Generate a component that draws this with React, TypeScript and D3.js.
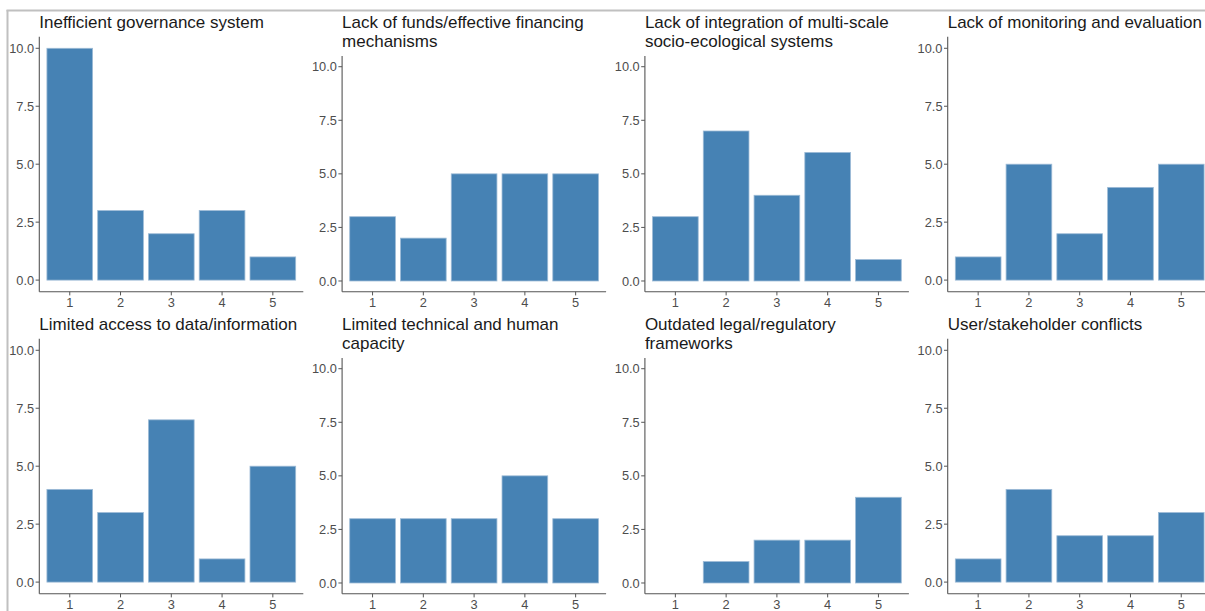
import React from "react";
import * as d3 from "d3";

const categories = ["1", "2", "3", "4", "5"];
const yTicks = [0, 2.5, 5, 7.5, 10];

const titles: string[][] = [
  ["Inefficient governance system"],
  ["Lack of funds/effective financing", "mechanisms"],
  ["Lack of integration of multi-scale", "socio-ecological systems"],
  ["Lack of monitoring and evaluation"],
  ["Limited access to data/information"],
  ["Limited technical and human", "capacity"],
  ["Outdated legal/regulatory", "frameworks"],
  ["User/stakeholder conflicts"],
];

const governance = [10, 3, 2, 3, 1];
const funds = [3, 2, 5, 5, 5];
const integration = [3, 7, 4, 6, 1];
const monitoring = [1, 5, 2, 4, 5];
const dataAccess = [4, 3, 7, 1, 5];
const capacity = [3, 3, 3, 5, 3];
const legal = [0, 1, 2, 2, 4];
const conflicts = [1, 4, 2, 2, 3];

const seriesList = [governance, funds, integration, monitoring, dataAccess, capacity, legal, conflicts];

const W = 1205;
const H = 611;
const PANEL_X0 = 39.3;
const PANEL_DX = 302.8;
const PANEL_W = 264;
const ROW_DY = 302;
const AXIS_Y = 291.7;
const TOP_ONE = 36.7;
const TOP_TWO = 56;
const FONT = "'Liberation Sans', Arial, sans-serif";

function Panel({ idx }: { idx: number }) {
  const col = idx % 4;
  const row = Math.floor(idx / 4);
  const x0 = PANEL_X0 + col * PANEL_DX;
  const dy = row * ROW_DY;
  const title = titles[idx];
  const values = seriesList[idx];
  const top = (title.length > 1 ? TOP_TWO : TOP_ONE) + dy;
  const bottom = AXIS_Y + dy;

  const x = d3.scaleLinear().domain([0.4, 5.6]).range([x0, x0 + PANEL_W]);
  const y = d3.scaleLinear().domain([-0.5, 10.5]).range([bottom, top]);

  return (
    <g>
      {title.map((t, i) => (
        <text key={i} x={x0} y={28.3 + dy + i * 18.3} fontSize={17} fill="#1a1a1a" fontFamily={FONT}>
          {t}
        </text>
      ))}
      {values.map((v, i) =>
        v > 0 ? (
          <rect
            key={i}
            x={x(i + 1 - 0.45)}
            width={x(1.45) - x(0.55)}
            y={y(v)}
            height={y(0) - y(v)}
            fill="#4682B4"
            stroke="#9dbbd6"
            strokeWidth={0.8}
          />
        ) : null
      )}
      <line x1={x0} x2={x0} y1={top} y2={bottom} stroke="#555" strokeWidth={1.1} />
      <line x1={x0} x2={x0 + PANEL_W} y1={bottom} y2={bottom} stroke="#555" strokeWidth={1.1} />
      {yTicks.map((t) => (
        <g key={t}>
          <line x1={x0 - 3.7} x2={x0} y1={y(t)} y2={y(t)} stroke="#555" strokeWidth={1} />
          <text
            x={x0 - 5.2}
            y={y(t) + 4.6}
            textAnchor="end"
            fontSize={12.8}
            fill="#4d4d4d"
            fontFamily={FONT}
          >
            {d3.format(".1f")(t)}
          </text>
        </g>
      ))}
      {categories.map((c, i) => (
        <g key={c}>
          <line x1={x(i + 1)} x2={x(i + 1)} y1={bottom} y2={bottom + 3.7} stroke="#555" strokeWidth={1} />
          <text
            x={x(i + 1)}
            y={bottom + 15}
            textAnchor="middle"
            fontSize={12.8}
            fill="#4d4d4d"
            fontFamily={FONT}
          >
            {c}
          </text>
        </g>
      ))}
    </g>
  );
}

export default function App() {
  return (
    <svg
      width={W}
      height={H}
      style={{ position: "absolute", left: 0, top: 0, background: "#fff" }}
    >
      <rect x={0} y={0} width={W} height={H} fill="#fff" />
      <line x1={6.5} x2={W} y1={10.5} y2={10.5} stroke="#c0c0c0" strokeWidth={2} />
      <line x1={7.5} x2={7.5} y1={10} y2={H} stroke="#c0c0c0" strokeWidth={2} />
      {seriesList.map((_, i) => (
        <Panel key={i} idx={i} />
      ))}
    </svg>
  );
}
